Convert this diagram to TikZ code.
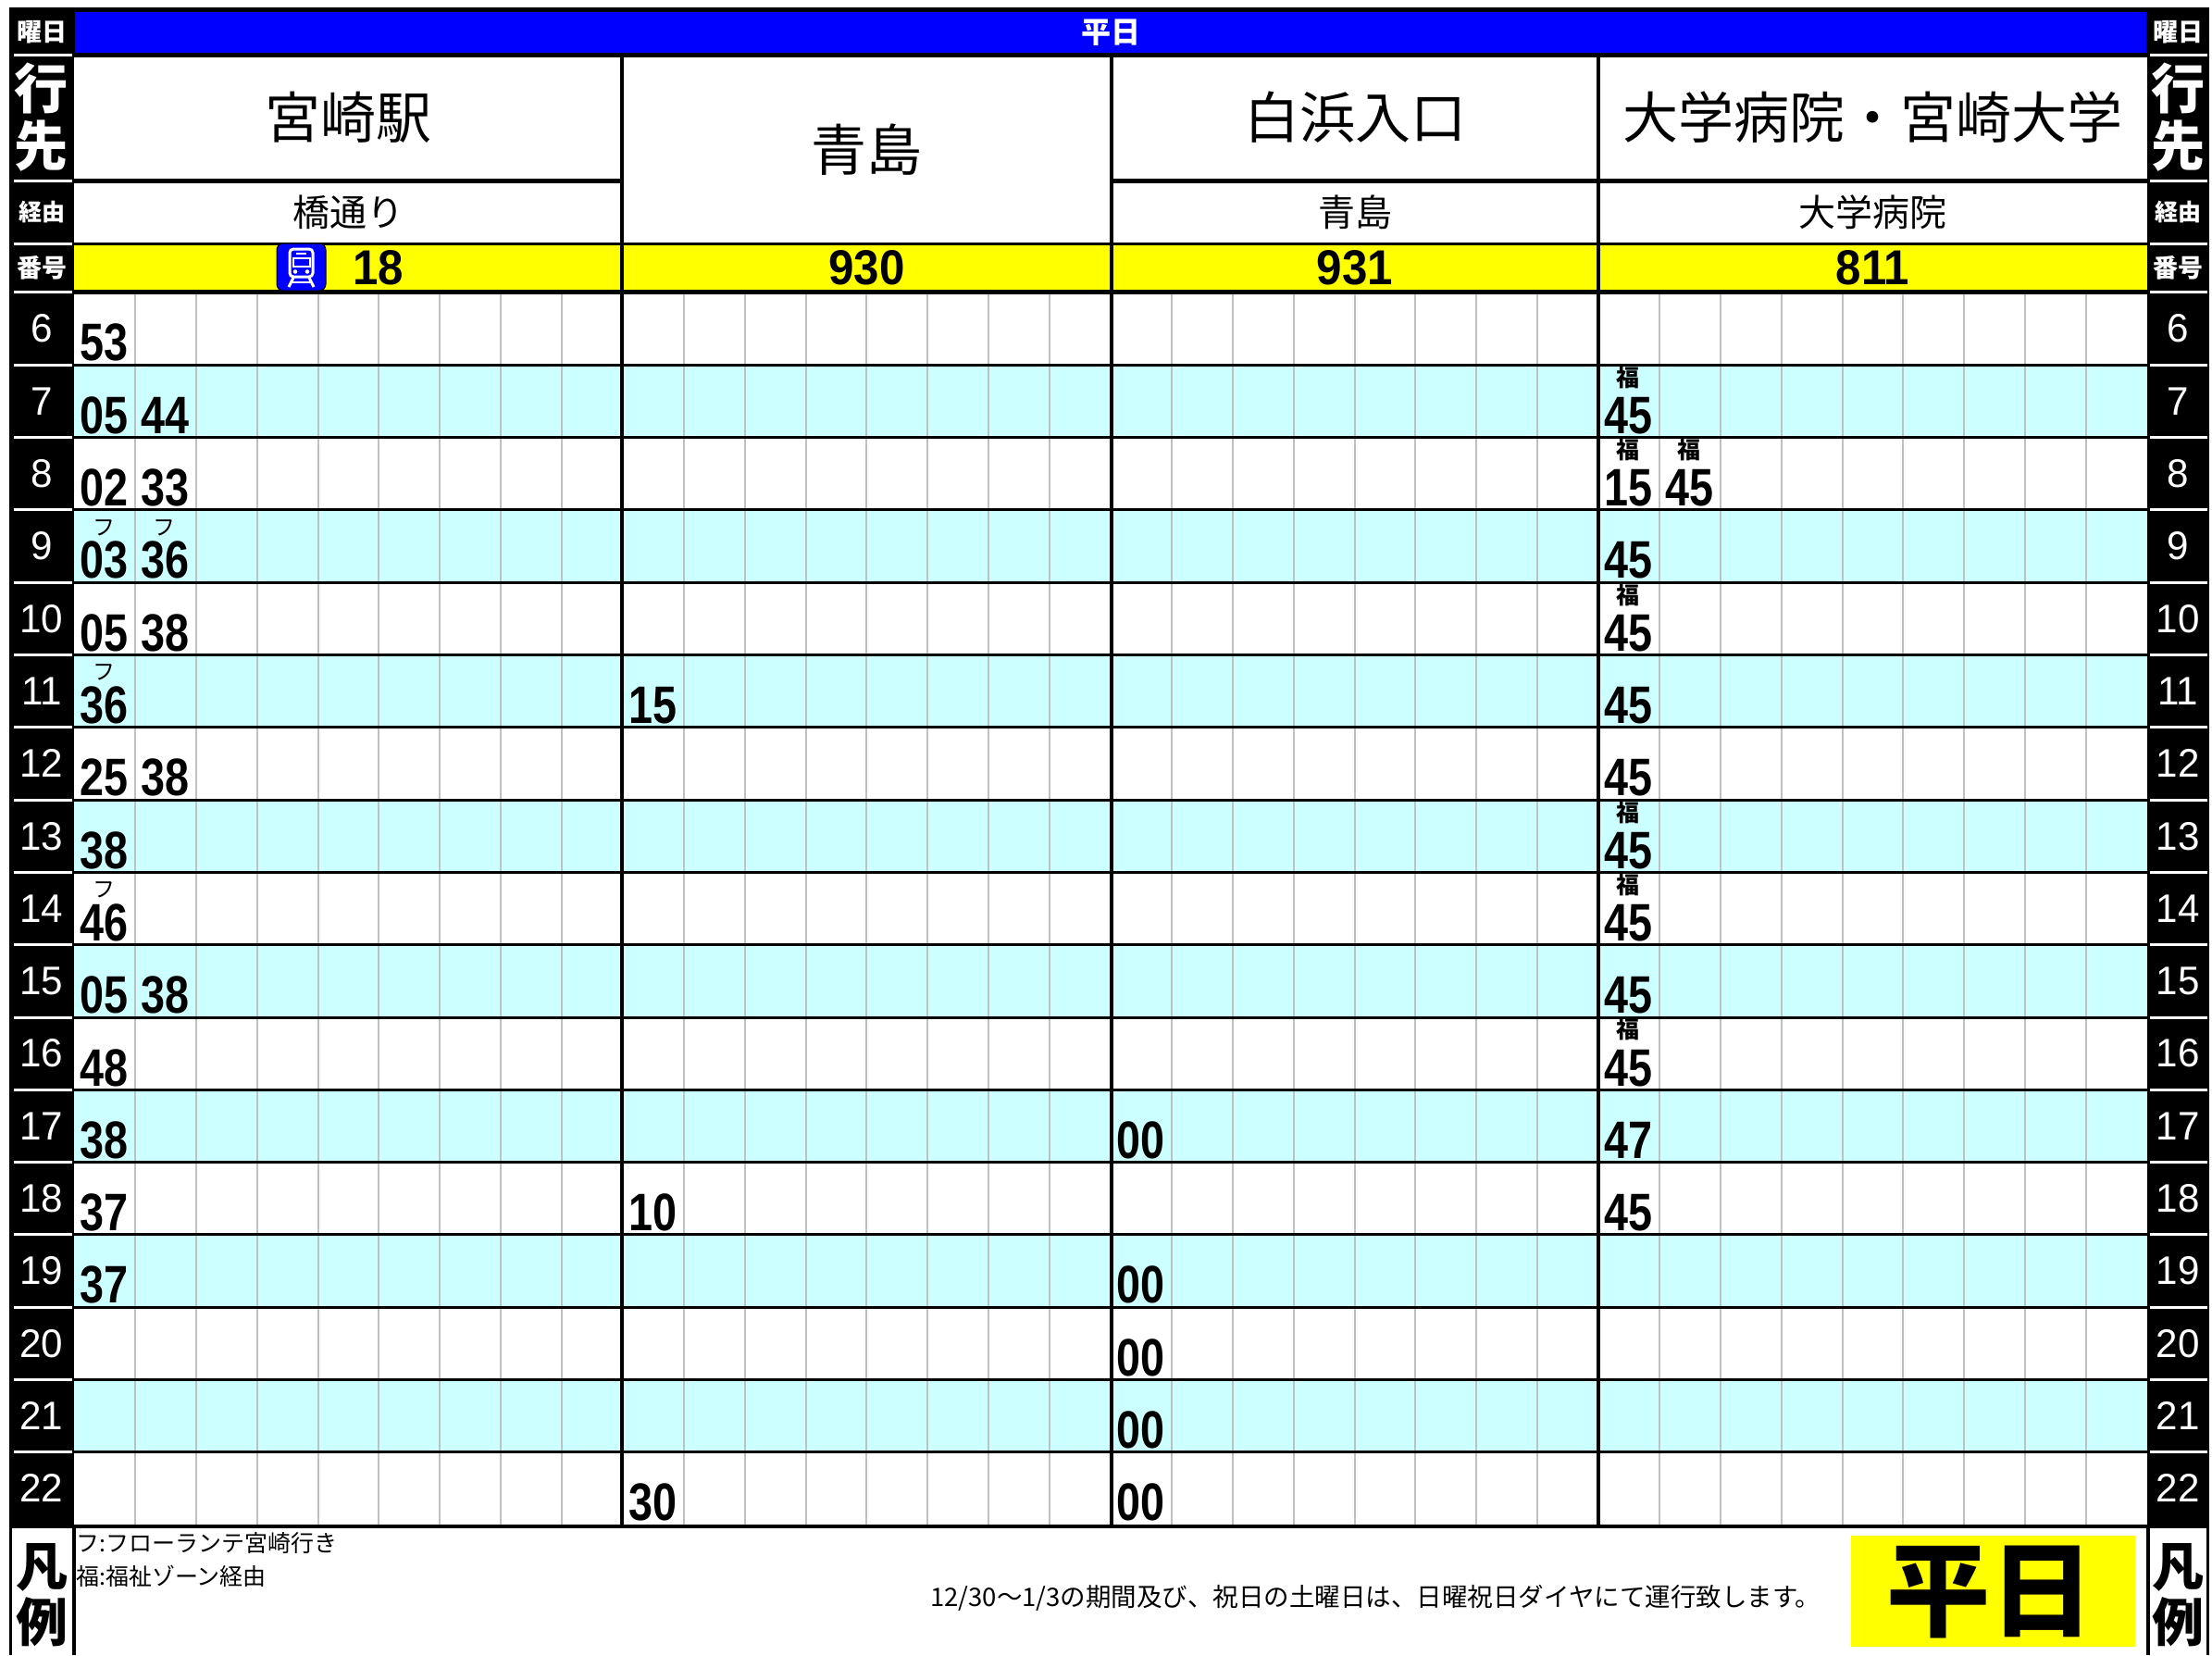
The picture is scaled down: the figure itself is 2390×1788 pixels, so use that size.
\documentclass[tikz,border=0pt]{standalone}
\usepackage{fontspec}
\setmainfont{Noto Sans CJK JP}
\newfontfamily\minfont[FakeStretch=0.82]{Liberation Sans}
\newfontfamily\numfont[FakeStretch=0.93]{Liberation Sans}
\newfontfamily\hourfont[FakeStretch=0.98]{Liberation Sans}
\newcommand\fsz[1]{\fontsize{#1}{#1}\selectfont}
\definecolor{tblue}{HTML}{0000FF}
\definecolor{tyellow}{HTML}{FFFF00}
\definecolor{tcyan}{HTML}{CCFFFF}
\definecolor{tgrey}{HTML}{C0C0C0}
\tikzset{
  sidelbl/.style={text=white, inner sep=0, font=\bfseries\fsz{27}},
  sidebig/.style={text=white, inner sep=0, font=\bfseries\fsz{58}},
  hourlbl/.style={text=white, inner sep=0, font=\hourfont\fsz{43}},
  hanrei/.style={text=black, inner sep=0, font=\bfseries\fsz{56}},
  dest/.style={inner sep=0, font=\fsz{60}},
  via/.style={inner sep=0, font=\fsz{40}},
  routeno/.style={inner sep=0, font=\numfont\bfseries\fsz{53}},
  minnum/.style={inner sep=0, anchor=south west, font=\minfont\bfseries\fsz{57}},
  fumark/.style={inner sep=0, anchor=south, font=\fsz{24}},
  fukumark/.style={inner sep=0, anchor=south, font=\bfseries\fsz{25}},
  legtxt/.style={inner sep=0, anchor=west, font=\fsz{25}},
  rowline/.style={line width=3},
  sepline/.style={white, line width=3},
  subline/.style={tgrey, line width=2},
}
\begin{document}
\begin{tikzpicture}[x=1pt,y=-1pt]
\useasboundingbox (0,0) rectangle (2390,1788);
\fill[white] (0,0) rectangle (2390,1788);
% black frame / sidebars
\fill[black] (10,8) rectangle (2387,1649);
\fill[tblue] (81,13) rectangle (2319,57);
\fill[white] (80,57) rectangle (2320,265);
\fill[tyellow] (80,265) rectangle (2320,316);
\foreach \k in {0,...,16}{
  \pgfmathsetmacro\ya{316+78.3*\k}
  \pgfmathsetmacro\yb{316+78.3*(\k+1)}
  \ifodd\k
    \fill[tcyan] (80,\ya) rectangle (2320,\yb);
  \else
    \fill[white] (80,\ya) rectangle (2320,\yb);
  \fi
}
% grey sub-column lines
\foreach \j in {1,...,33}{
  \pgfmathsetmacro\xx{80+2240/34*\j}
  \draw[subline] (\xx,316) -- (\xx,1648);
}
% black rules
\draw[line width=5] (80,59.5) -- (2320,59.5);
\draw[line width=5] (80,195.5) -- (672,195.5) (1201,195.5) -- (2320,195.5);
\draw[line width=3] (80,263.5) -- (2320,263.5);
\draw[line width=5] (80,315.5) -- (2320,315.5);
\foreach \k in {1,...,16}{
  \pgfmathsetmacro\ya{316+78.3*\k}
  \draw[rowline] (80,\ya) -- (2320,\ya);
}
\draw[line width=4] (10,1649) -- (2387,1649);
\foreach \x in {672,1201,1727} \draw[line width=3.5] (\x,57) -- (\x,1649);
% sidebar separators
\foreach \yy in {59.5,195.5,263.5,315.5}{
  \draw[sepline] (15,\yy) -- (78,\yy);
  \draw[sepline] (2323,\yy) -- (2385,\yy);
}
\foreach \k in {1,...,16}{
  \pgfmathsetmacro\ya{316+78.3*\k}
  \draw[sepline] (15,\ya) -- (78,\ya);
  \draw[sepline] (2323,\ya) -- (2385,\ya);
}
% legend frames
\draw[line width=3] (11.5,1649) -- (11.5,1788);
\draw[line width=3.5] (80,1649) -- (80,1788);
\draw[line width=3.5] (2321,1649) -- (2321,1788);
\draw[line width=3] (2385.5,1649) -- (2385.5,1788);

% side labels
\foreach \sx/\sn in {45/L,2353/R}{
  \node[sidelbl] (youbi\sn) at (\sx,35) {曜日};
  \node[sidebig] (iki\sn) at (\sx,95) {行};
  \node[sidebig] (saki\sn) at (\sx,158) {先};
  \node[sidelbl, font=\bfseries\fsz{25}] (keiyu\sn) at (\sx,229) {経由};
  \node[sidelbl] (bango\sn) at (\sx,289) {番号};
  \node[hanrei] (han\sn) at (\sx,1693) {凡};
  \node[hanrei] (rei\sn) at (\sx,1752) {例};
  \foreach \k in {0,...,16}{
    \pgfmathsetmacro\yc{316+78.3*(\k+0.5)}
    \pgfmathtruncatemacro\h{\k+6}
    \node[hourlbl] (h\sn\h) at (\sx,\yc) {\h};
  }
}
% top band
\node[text=white, inner sep=0, font=\bfseries\fsz{32}] (heijitsu) at (1200,35) {平日};
% destinations
\node[dest] (d1) at (376,127) {宮崎駅};
\node[dest] (d2) at (936.5,162) {青島};
\node[dest] (d3) at (1464,127) {白浜入口};
\node[dest] (d4) at (2023.5,127) {大学病院・宮崎大学};
\node[via] (v1) at (376,229) {橋通り};
\node[via] (v3) at (1464,229) {青島};
\node[via] (v4) at (2023.5,229) {大学病院};
% route numbers
\node[routeno] (r1) at (409,289) {18};
\node[routeno] (r2) at (936.5,289) {930};
\node[routeno] (r3) at (1464,289) {931};
\node[routeno] (r4) at (2023.5,289) {811};
% train icon
\begin{scope}[shift={(299,263)}]
  \draw[fill=tblue, draw=black, line width=1, rounded corners=7] (0,0) rectangle (53,51);
  \draw[white, line width=3, rounded corners=4] (14,6) rectangle (39,36);
  \draw[white, line width=2.5] (21,11) -- (32,11);
  \draw[white, line width=2] (17.5,16) rectangle (35.5,25);
  \fill[white] (20,30.5) circle (2.3);
  \fill[white] (33,30.5) circle (2.3);
  \draw[white, line width=3] (18,37) -- (13,47);
  \draw[white, line width=3] (35,37) -- (40,47);
  \draw[white, line width=2.5] (15.5,42) -- (37.5,42);
\end{scope}
% minutes
\foreach \k/\j/\m in {0/0/53, 1/0/05, 1/1/44, 2/0/02, 2/1/33, 3/0/03, 3/1/36,
  4/0/05, 4/1/38, 5/0/36, 6/0/25, 6/1/38, 7/0/38, 8/0/46, 9/0/05, 9/1/38,
  10/0/48, 11/0/38, 12/0/37, 13/0/37,
  5/9/15, 12/9/10, 16/9/30,
  11/17/00, 13/17/00, 14/17/00, 15/17/00, 16/17/00,
  1/25/45, 2/25/15, 2/26/45, 3/25/45, 4/25/45, 5/25/45, 6/25/45, 7/25/45,
  8/25/45, 9/25/45, 10/25/45, 11/25/47, 12/25/45}{
  \pgfmathsetmacro\xx{80+2240/34*\j+6}
  \pgfmathsetmacro\yy{316+78.3*(\k+1)-3.5}
  \node[minnum] (m\k-\j) at (\xx,\yy) {\m};
}
\foreach \k/\j in {3/0, 3/1, 5/0, 8/0}{
  \pgfmathsetmacro\xx{80+2240/34*\j+32}
  \pgfmathsetmacro\yy{316+78.3*\k+28}
  \node[fumark] (fu\k-\j) at (\xx,\yy) {フ};
}
\foreach \k/\j in {1/25, 2/25, 2/26, 4/25, 7/25, 8/25, 10/25}{
  \pgfmathsetmacro\xx{80+2240/34*\j+32}
  \pgfmathsetmacro\yy{316+78.3*\k+25.5}
  \node[fukumark] (fk\k-\j) at (\xx,\yy) {福};
}
% legend
\node[legtxt] (leg1) at (82,1667) {フ:フローランテ宮崎行き};
\node[legtxt] (leg2) at (82,1703) {福:福祉ゾーン経由};
\node[legtxt, font=\fsz{27.5}] (note) at (1005,1726) {12/30〜1/3の期間及び、祝日の土曜日は、日曜祝日ダイヤにて運行致します。};
\fill[tyellow] (2000,1659) rectangle (2307,1779);
\node[inner sep=0, font=\bfseries\fsz{112}] (hbig) at (2150,1720) {平日};
\end{tikzpicture}
\end{document}
